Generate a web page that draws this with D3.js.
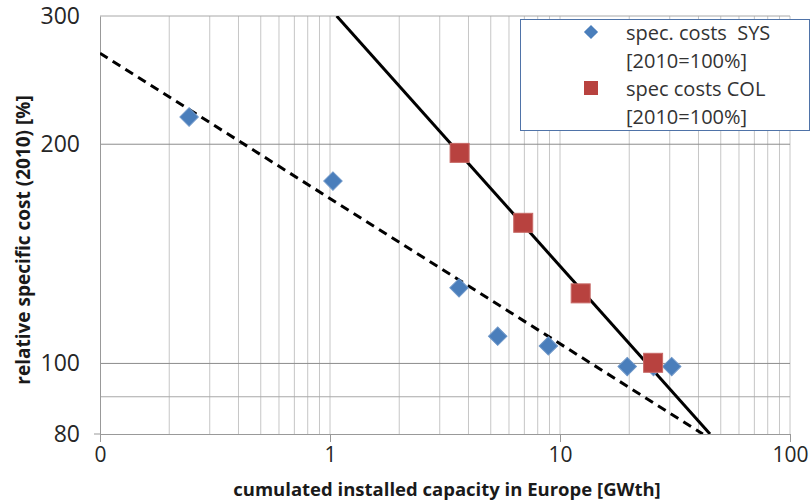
<!DOCTYPE html>
<html>
<head>
<meta charset="utf-8">
<script src="https://cdn.jsdelivr.net/npm/d3@7"></script>
<style>
  body { margin: 0; background: #fff; }
  svg { display: block; font-family: "Open Sans", sans-serif; }
</style>
</head>
<body>
<div id="chart"></div>
<script>
// Learning curve data
const sysX = [0.244, 1.03, 3.64, 5.36, 8.9, 19.6, 25.5, 30.6];
const sysY = [218, 178, 127, 109, 105.7, 99, 99, 99];
const colX = [3.66, 6.92, 12.3, 25.4];
const colY = [194.6, 156, 124.8, 100.2];

// trend lines, end points
const trendSysX = [0.1, 41.8];
const trendSysY = [266.7, 80];
const trendColX = [1.069, 44.9];
const trendColY = [300, 80];

const xTicks = [0.1, 1, 10, 100];
const xTickLabels = ["0", "1", "10", "100"];
const yTicks = [80, 100, 200, 300];
const yGrid = [90, 100, 200, 300];

const width = 811;
const height = 501;
const margin = {left: 100, right: 21, top: 16, bottom: 67};

const svg = d3.select("#chart")
  .append("svg")
  .attr("width", width)
  .attr("height", height);

const xScale = d3.scaleLog()
  .domain([0.1, 100])
  .range([margin.left, width - margin.right]);

const yScale = d3.scaleLog()
  .domain([80, 300])
  .range([height - margin.bottom, margin.top]);

// minor vertical gridlines 0.2..0.9, 2..9, 20..90 and the decades
let xGrid = [];
[0.1, 1, 10].forEach(function(d) {
  for (let k = 2; k <= 9; k++) xGrid.push(d * k);
});
xGrid = xGrid.concat([1, 10, 100]);

svg.append("g")
  .selectAll("line")
  .data(xGrid)
  .enter()
  .append("line")
    .attr("x1", d => xScale(d))
    .attr("x2", d => xScale(d))
    .attr("y1", yScale(300))
    .attr("y2", yScale(80))
    .attr("stroke", "#c6c6c6")
    .attr("stroke-width", 1);

svg.append("g")
  .selectAll("line")
  .data(yGrid)
  .enter()
  .append("line")
    .attr("x1", xScale(0.1))
    .attr("x2", xScale(100))
    .attr("y1", d => yScale(d))
    .attr("y2", d => yScale(d))
    .attr("stroke", d => (d == 90 || d == 300) ? "#a8a8a8" : "#8c8c8c")
    .attr("stroke-width", 1);

// axes
const xAxis = svg.append("g")
  .attr("transform", `translate(0,${yScale(80)})`)
  .call(d3.axisBottom(xScale)
    .tickValues(xTicks)
    .tickFormat((d, i) => xTickLabels[i])
    .tickSizeInner(8)
    .tickSizeOuter(0)
    .tickPadding(5));
xAxis.select(".domain").attr("stroke", "#999");
xAxis.selectAll(".tick line").attr("stroke", "#999");
xAxis.selectAll("text")
  .attr("font-size", "21px")
  .attr("fill", "#262626")
  .attr("font-family", "'Open Sans', sans-serif");

const yAxis = svg.append("g")
  .attr("transform", `translate(${xScale(0.1)},0)`)
  .call(d3.axisLeft(yScale)
    .tickValues(yTicks)
    .tickFormat(d3.format("d"))
    .tickSizeInner(0)
    .tickSizeOuter(0)
    .tickPadding(20));
yAxis.select(".domain").attr("stroke", "#999");
yAxis.selectAll("text")
  .attr("font-size", "23px")
  .attr("fill", "#262626")
  .attr("font-family", "'Open Sans', sans-serif");

// small tick at 80 on the y axis
svg.append("line")
  .attr("x1", xScale(0.1) - 6)
  .attr("x2", xScale(0.1))
  .attr("y1", yScale(80))
  .attr("y2", yScale(80))
  .attr("stroke", "#999");

// clip for trend lines
svg.append("clipPath")
  .attr("id", "plotClip")
  .append("rect")
    .attr("x", xScale(0.1))
    .attr("y", yScale(300))
    .attr("width", xScale(100) - xScale(0.1))
    .attr("height", yScale(80) - yScale(300));

const line = d3.line()
  .x(d => xScale(d[0]))
  .y(d => yScale(d[1]));

svg.append("path")
  .datum(d3.zip(trendSysX, trendSysY))
  .attr("d", line)
  .attr("clip-path", "url(#plotClip)")
  .attr("fill", "none")
  .attr("stroke", "#000")
  .attr("stroke-width", 3)
  .attr("stroke-dasharray", "9,6");

svg.append("path")
  .datum(d3.zip(trendColX, trendColY))
  .attr("d", line)
  .attr("clip-path", "url(#plotClip)")
  .attr("fill", "none")
  .attr("stroke", "#000")
  .attr("stroke-width", 3);

// markers
const diamond = d3.symbol().type(d3.symbolSquare).size(170);

svg.append("g")
  .selectAll("path")
  .data(d3.zip(sysX, sysY))
  .enter()
  .append("path")
    .attr("d", diamond)
    .attr("transform", d => `translate(${xScale(d[0])},${yScale(d[1])}) rotate(45)`)
    .attr("fill", "#4a7ebb")
    .attr("stroke", "#6d96c8")
    .attr("stroke-width", 1);

svg.append("g")
  .selectAll("rect")
  .data(d3.zip(colX, colY))
  .enter()
  .append("rect")
    .attr("x", d => xScale(d[0]) - 9.5)
    .attr("y", d => yScale(d[1]) - 9.5)
    .attr("width", 19)
    .attr("height", 19)
    .attr("fill", "#b8423f")
    .attr("stroke", "#c86a67")
    .attr("stroke-width", 1);

// legend
const legend = svg.append("g");
legend.append("rect")
  .attr("x", 520.5)
  .attr("y", 19.5)
  .attr("width", 289)
  .attr("height", 111)
  .attr("fill", "#fff")
  .attr("stroke", "#4f73a8")
  .attr("stroke-width", 1);

legend.append("path")
  .attr("d", d3.symbol().type(d3.symbolSquare).size(100))
  .attr("transform", "translate(591,32) rotate(45)")
  .attr("fill", "#4a7ebb");

legend.append("rect")
  .attr("x", 584)
  .attr("y", 81)
  .attr("width", 14)
  .attr("height", 14)
  .attr("fill", "#b8423f");

const legendText = [
  ["spec. costs  SYS", 33],
  ["[2010=100%]", 61],
  ["spec costs COL", 89],
  ["[2010=100%]", 117]
];
legend.selectAll("text")
  .data(legendText)
  .enter()
  .append("text")
    .attr("x", 626)
    .attr("y", d => d[1])
    .attr("dy", "0.35em")
    .attr("font-size", "20px")
    .attr("fill", "#333")
    .style("white-space", "pre")
    .text(d => d[0]);

// axis titles
svg.append("text")
  .attr("x", 447)
  .attr("y", 495.5)
  .attr("text-anchor", "middle")
  .attr("font-size", "18.5px")
  .attr("font-weight", "bold")
  .attr("fill", "#1a1a1a")
  .text("cumulated installed capacity in Europe [GWth]");

svg.append("text")
  .attr("transform", "translate(30,240) rotate(-90)")
  .attr("text-anchor", "middle")
  .attr("font-size", "19px")
  .attr("font-weight", "bold")
  .attr("fill", "#1a1a1a")
  .text("relative specific cost (2010) [%]");
</script>
</body>
</html>
